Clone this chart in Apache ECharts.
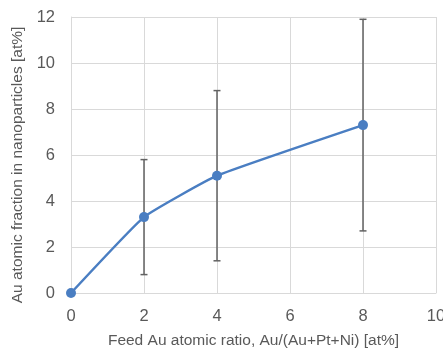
<!DOCTYPE html>
<html>
<head>
<meta charset="utf-8">
<script src="https://cdn.jsdelivr.net/npm/echarts@6/dist/echarts.min.js"></script>
<style>html,body{margin:0;padding:0;background:#fff}#c{width:443px;height:350px}</style>
</head>
<body>
<div id="c"></div>
<script>
var feedRatio = [0, 2, 4, 8];
var auFraction = [0, 3.3, 5.1, 7.3];
var errLow = [null, 0.8, 1.4, 2.7];
var errHigh = [null, 5.8, 8.8, 11.9];
var xTitle = 'Feed Au atomic ratio, Au/(Au+Pt+Ni) [at%]';
var yTitle = 'Au atomic fraction in nanoparticles [at%]';

var lineData = feedRatio.map(function (x, i) { return [x, auFraction[i]]; });
var errData = [];
feedRatio.forEach(function (x, i) {
  if (errLow[i] != null) errData.push([x, errLow[i], errHigh[i]]);
});

var chart = echarts.init(document.getElementById('c'));
var labelColor = '#595959';
var gridColor = '#D9D9D9';
var font = 'Liberation Sans';
chart.setOption({
  animation: false,
  grid: { left: 71, right: 7, top: 17, bottom: 57, containLabel: false, outerBoundsMode: 'none' },
  xAxis: {
    type: 'value', min: 0, max: 10, interval: 2,
    name: xTitle, nameLocation: 'middle', nameGap: 40,
    nameTextStyle: { color: labelColor, fontSize: 15.5, fontFamily: font },
    axisLine: { show: true, lineStyle: { color: gridColor } },
    axisTick: { show: false },
    axisLabel: { color: labelColor, fontSize: 16.5, fontFamily: font, margin: 15 },
    splitLine: { show: true, lineStyle: { color: gridColor, width: 1 } }
  },
  yAxis: {
    type: 'value', min: 0, max: 12, interval: 2,
    name: yTitle, nameLocation: 'middle', nameGap: 43,
    nameTextStyle: { color: labelColor, fontSize: 15.5, fontFamily: font, padding: [0, 20, 0, 0] },
    axisLine: { show: true, lineStyle: { color: gridColor } },
    axisTick: { show: false },
    axisLabel: { color: labelColor, fontSize: 16.5, fontFamily: font, margin: 16 },
    splitLine: { show: true, lineStyle: { color: gridColor, width: 1 } }
  },
  series: [
    {
      type: 'custom',
      data: errData,
      z: 1,
      renderItem: function (params, api) {
        var x = api.value(0);
        var lo = api.coord([x, api.value(1)]);
        var hi = api.coord([x, api.value(2)]);
        var w = 3.5;
        var st = { stroke: '#626262', lineWidth: 1.5 };
        return {
          type: 'group',
          children: [
            { type: 'line', shape: { x1: lo[0], y1: lo[1], x2: hi[0], y2: hi[1] }, style: st },
            { type: 'line', shape: { x1: lo[0] - w, y1: lo[1], x2: lo[0] + w, y2: lo[1] }, style: st },
            { type: 'line', shape: { x1: hi[0] - w, y1: hi[1], x2: hi[0] + w, y2: hi[1] }, style: st }
          ]
        };
      }
    },
    {
      type: 'line',
      data: lineData,
      smooth: 0.12,
      z: 3,
      symbol: 'circle',
      symbolSize: 10,
      lineStyle: { color: '#4A7EC2', width: 2.5 },
      itemStyle: { color: '#4A7EC2' }
    }
  ]
});
</script>
</body>
</html>
